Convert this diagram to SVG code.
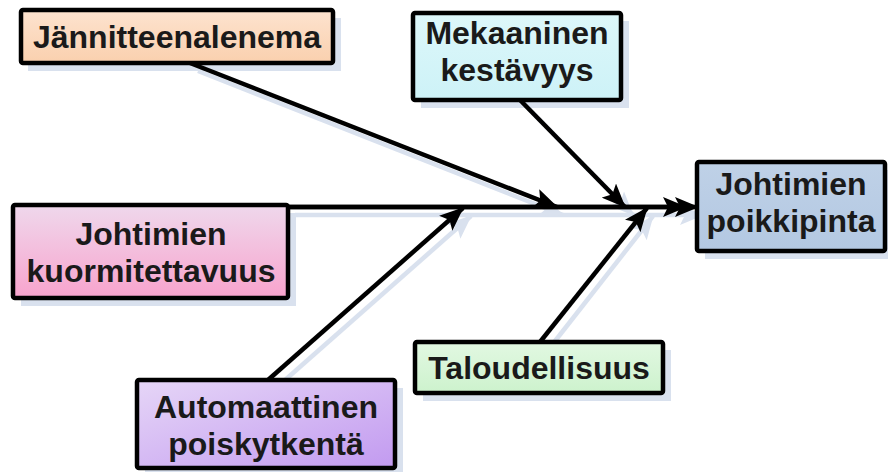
<svg xmlns="http://www.w3.org/2000/svg" width="888" height="472" viewBox="0 0 888 472">
<defs>
<linearGradient id="gPeach" x1="0" y1="0" x2="0" y2="1"><stop offset="0" stop-color="#FDE3CF"/><stop offset="1" stop-color="#FAD0AE"/></linearGradient>
<linearGradient id="gCyan" x1="0" y1="0" x2="0" y2="1"><stop offset="0" stop-color="#DDF7FA"/><stop offset="1" stop-color="#CDF2F7"/></linearGradient>
<linearGradient id="gPink" x1="0" y1="0" x2="0" y2="1"><stop offset="0" stop-color="#EFD8EC"/><stop offset="1" stop-color="#F8A3CD"/></linearGradient>
<linearGradient id="gBlue" x1="0" y1="0" x2="0" y2="1"><stop offset="0" stop-color="#BFD1E7"/><stop offset="1" stop-color="#B3C8E2"/></linearGradient>
<linearGradient id="gPurple" x1="0" y1="0" x2="1" y2="1"><stop offset="0" stop-color="#E6D6F7"/><stop offset="1" stop-color="#C29AF0"/></linearGradient>
<linearGradient id="gGreen" x1="0" y1="0" x2="0" y2="1"><stop offset="0" stop-color="#E2F8E2"/><stop offset="1" stop-color="#CDF2CD"/></linearGradient>
<marker id="ah" viewBox="0 0 24 20" refX="23" refY="10" markerWidth="24" markerHeight="20" markerUnits="userSpaceOnUse" orient="auto"><path d="M0,0 L24,10 L0,20 L5,10 z" fill="#000"/></marker>
<marker id="ahs" viewBox="0 0 24 20" refX="23" refY="10" markerWidth="24" markerHeight="20" markerUnits="userSpaceOnUse" orient="auto"><path d="M0,0 L24,10 L0,20 L5,10 z" fill="#D9E1EE"/></marker>
</defs>
<style>
.box{stroke:#000;stroke-width:4.5}
.sh{fill:#D9E1EE;stroke:none}
.t{font-family:"Liberation Sans",Arial,sans-serif;font-weight:bold;font-size:32px;fill:#1a1a1a;text-anchor:middle}
.ln{stroke:#000;stroke-width:4.5;fill:none;marker-end:url(#ah)}
.lns{stroke:#D9E1EE;stroke-width:4.5;fill:none;marker-end:url(#ahs)}
</style>
<g id="shadows">
<rect class="sh" x="28" y="18" width="313" height="53"/>
<rect class="sh" x="421" y="21" width="208" height="87"/>
<rect class="sh" x="21" y="213" width="275" height="93"/>
<rect class="sh" x="705" y="170" width="183" height="89"/>
<rect class="sh" x="145" y="388" width="258" height="84"/>
<rect class="sh" x="423" y="350" width="248" height="51"/>
<line class="lns" x1="295" y1="215" x2="703" y2="215"/>
<line class="lns" x1="198" y1="71" x2="563" y2="215"/>
<line class="lns" x1="528" y1="108" x2="633" y2="215"/>
<line class="lns" x1="276" y1="388" x2="471" y2="216"/>
<line class="lns" x1="548" y1="350" x2="653" y2="216"/>
</g>
<g id="connectors">
<line class="ln" x1="286" y1="207" x2="686" y2="207"/>
<line class="ln" x1="286" y1="207" x2="698" y2="207"/>
<line class="ln" x1="190" y1="63" x2="557" y2="207"/>
<line class="ln" x1="520" y1="100" x2="625" y2="207"/>
<line class="ln" x1="268" y1="380" x2="463" y2="208"/>
<line class="ln" x1="540" y1="342" x2="647" y2="208"/>
</g>
<g id="n1"><rect class="box" x="21" y="10" width="312" height="53" rx="2" fill="url(#gPeach)"/><text class="t" x="177" y="48">Jännitteenalenema</text></g>
<g id="n2"><rect class="box" x="413" y="13" width="208" height="87" rx="2" fill="url(#gCyan)"/><text class="t" x="517" y="44">Mekaaninen</text><text class="t" x="517" y="81">kestävyys</text></g>
<g id="n3"><rect class="box" x="13" y="205" width="275" height="93" rx="2" fill="url(#gPink)"/><text class="t" x="151" y="245">Johtimien</text><text class="t" x="151" y="282">kuormitettavuus</text></g>
<g id="n4"><rect class="box" x="697" y="162" width="188" height="89" rx="2" fill="url(#gBlue)"/><text class="t" x="791" y="195">Johtimien</text><text class="t" x="791" y="232">poikkipinta</text></g>
<g id="n5"><rect class="box" x="137" y="380" width="258" height="88" rx="2" fill="url(#gPurple)"/><text class="t" x="266" y="418">Automaattinen</text><text class="t" x="266" y="455">poiskytkentä</text></g>
<g id="n6"><rect class="box" x="415" y="342" width="248" height="51" rx="2" fill="url(#gGreen)"/><text class="t" x="539" y="379">Taloudellisuus</text></g>
</svg>
